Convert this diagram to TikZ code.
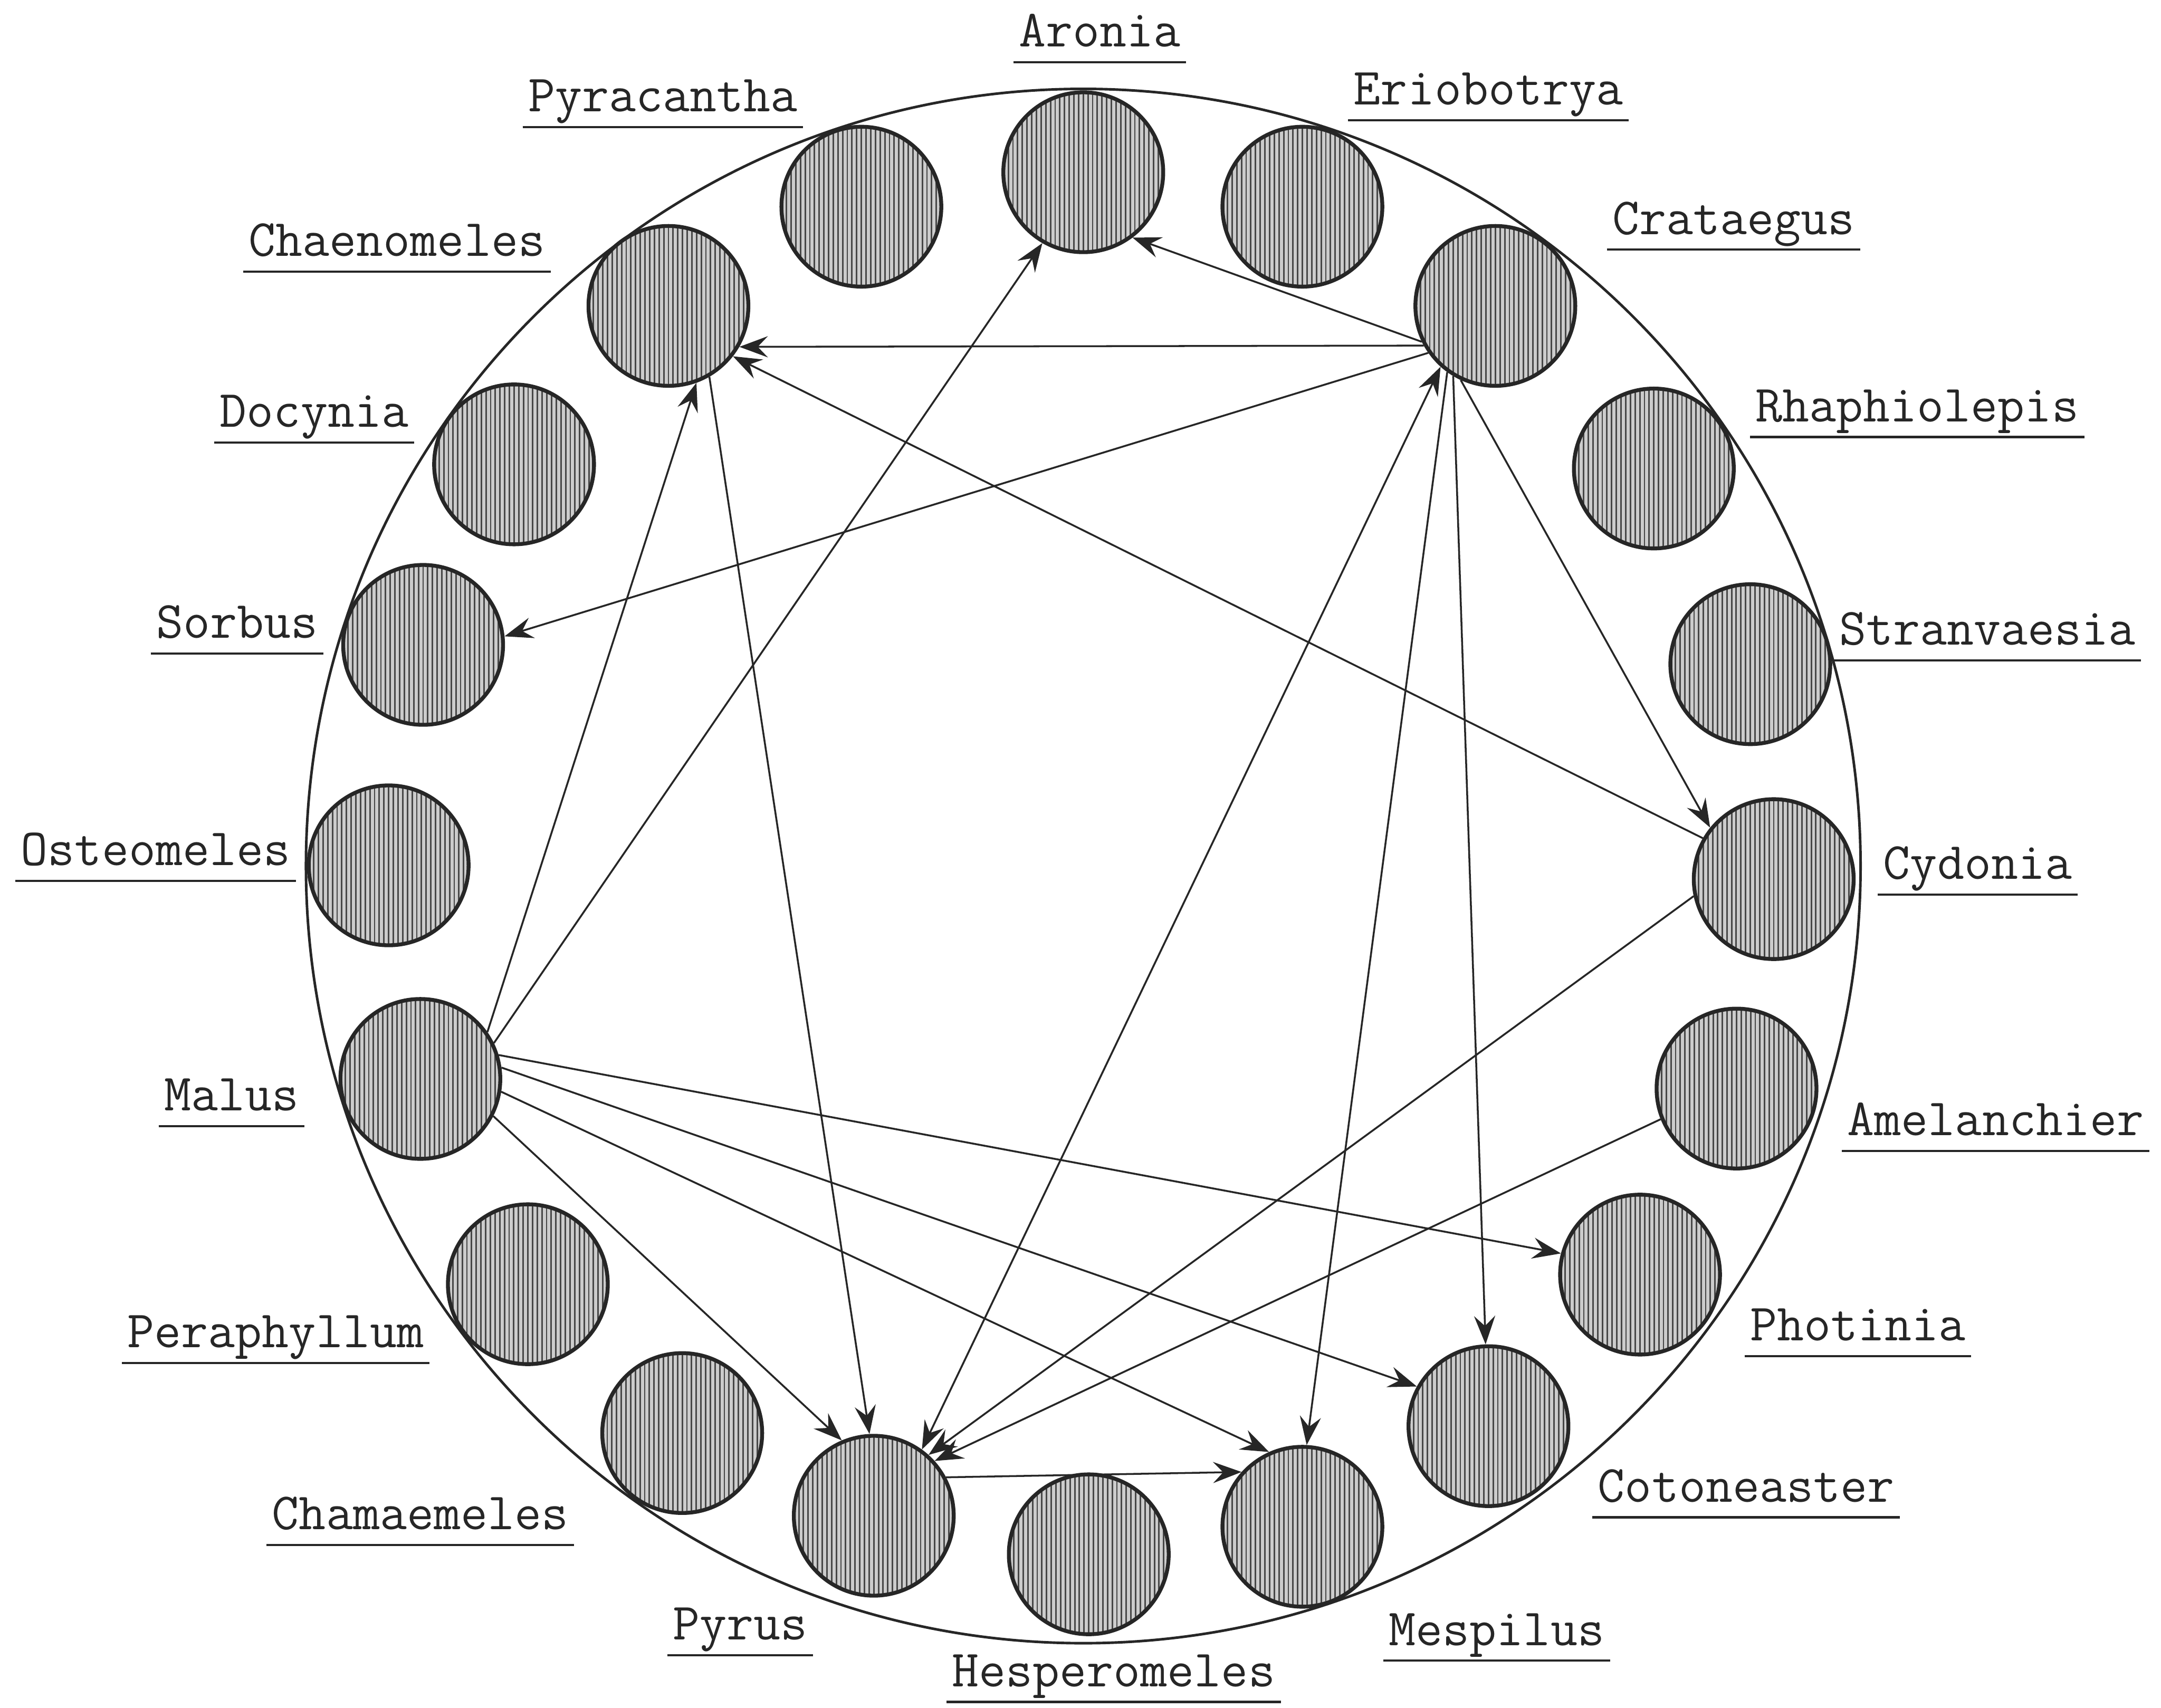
\documentclass[tikz,border=0pt]{standalone}
\usepackage{fontspec}
\usetikzlibrary{arrows.meta}
\newcommand\ulab[1]{\setbox0\hbox{#1}\hbox{\copy0\kern-\wd0\kern-0.12cm\raisebox{-0.36cm}{\rule{\dimexpr\wd0+0.24cm\relax}{1.4pt}}\kern-0.12cm}}
\begin{document}
\begin{tikzpicture}[x=0.03cm,y=-0.03cm,
  sp/.style={circle, draw=black!85, line width=2.4pt, fill=black!20, minimum size=3.48cm, inner sep=0pt,
    path picture={\foreach \k in {-18,...,18}{\draw[line width=0.95pt,black!72] ([xshift=\k*1.02mm]path picture bounding box.south) -- ([xshift=\k*1.02mm]path picture bounding box.north);}}},
  lbl/.style={font={\ttfamily\fontsize{32.4}{36}\selectfont\addfontfeatures{FakeBold=1.6}}, inner sep=0pt, anchor=base, text=black!85},
  tip/.tip={Stealth[length=0.62cm,width=0.46cm,inset=0.22cm]},
  rel/.style={line width=1.15pt, draw=black!85, -tip},
  relb/.style={line width=1.15pt, draw=black!85, tip-tip},
  rim/.style={line width=1.6pt, draw=black!85}]
\fill[white] (0,0) rectangle (1568,1239.3);
\useasboundingbox (0,0) rectangle (1568,1239.3);
\draw[rim] (786,628.5) circle [radius=564];
% species circles
\node[sp] (aron) at (786,125) {};
\node[sp] (erio) at (945,150) {};
\node[sp] (crat) at (1085,222) {};
\node[sp] (rhap) at (1200,340) {};
\node[sp] (stra) at (1270,482) {};
\node[sp] (cydo) at (1287,638) {};
\node[sp] (amel) at (1260,790) {};
\node[sp] (phot) at (1190,925) {};
\node[sp] (coto) at (1080,1035) {};
\node[sp] (mesp) at (945,1108) {};
\node[sp] (hesp) at (790,1128) {};
\node[sp] (pyru) at (634,1100) {};
\node[sp] (cham) at (495,1040) {};
\node[sp] (pera) at (383,932) {};
\node[sp] (malu) at (305,783) {};
\node[sp] (oste) at (282,628) {};
\node[sp] (sorb) at (307,468) {};
\node[sp] (docy) at (373,337) {};
\node[sp] (chae) at (485,222) {};
\node[sp] (pyra) at (625,150) {};
% labels
\node[lbl] (laron) at (798,34) {\ulab{Aronia}};
\node[lbl] (lpyra) at (481,81) {\ulab{Pyracantha}};
\node[lbl] (lerio) at (1080,76) {\ulab{Eriobotrya}};
\node[lbl] (lchae) at (288,186) {\ulab{Chaenomeles}};
\node[lbl] (lcrat) at (1258,170) {\ulab{Crataegus}};
\node[lbl] (ldocy) at (228,310) {\ulab{Docynia}};
\node[lbl] (lrhap) at (1391,306) {\ulab{Rhaphiolepis}};
\node[lbl] (lsorb) at (172,463) {\ulab{Sorbus}};
\node[lbl] (lstra) at (1442,468) {\ulab{Stranvaesia}};
\node[lbl] (loste) at (113,628) {\ulab{Osteomeles}};
\node[lbl] (lcydo) at (1435,638) {\ulab{Cydonia}};
\node[lbl] (lmalu) at (168,806) {\ulab{Malus}};
\node[lbl] (lamel) at (1448,824) {\ulab{Amelanchier}};
\node[lbl] (lpera) at (200,978) {\ulab{Peraphyllum}};
\node[lbl] (lphot) at (1348,973) {\ulab{Photinia}};
\node[lbl] (lcham) at (305,1110) {\ulab{Chamaemeles}};
\node[lbl] (lcoto) at (1267,1090) {\ulab{Cotoneaster}};
\node[lbl] (lpyru) at (537,1190) {\ulab{Pyrus}};
\node[lbl] (lmesp) at (1086,1194) {\ulab{Mespilus}};
\node[lbl] (lhesp) at (808,1224) {\ulab{Hesperomeles}};
% relations
\draw[rel] (crat.206) -- (aron.307);
\draw[rel] (crat.209) -- (chae.330);
\draw[rel] (crat.215) -- (sorb.6);
\draw[rel] (cydo.150) -- (chae.322);
\draw[rel] (crat.245) -- (cydo.141);
\draw[rel] (crat.239) -- (coto.92);
\draw[rel] (crat.234) -- (mesp.87);
\draw[relb] (crat.228) -- (pyru.54);
\draw[rel] (cydo.192) -- (pyru.48);
\draw[rel] (amel.202) -- (pyru.42);
\draw[rel] (pyru.28) -- (mesp.138);
\draw[rel] (malu.35) -- (chae.290);
\draw[rel] (malu.26) -- (aron.240);
\draw[rel] (malu.17) -- (phot.165);
\draw[rel] (malu.8) -- (coto.151);
\draw[rel] (malu.-9) -- (mesp.114);
\draw[rel] (malu.-27) -- (pyru.113);
\draw[rel] (chae.300) -- (pyru.93);
\end{tikzpicture}
\end{document}
